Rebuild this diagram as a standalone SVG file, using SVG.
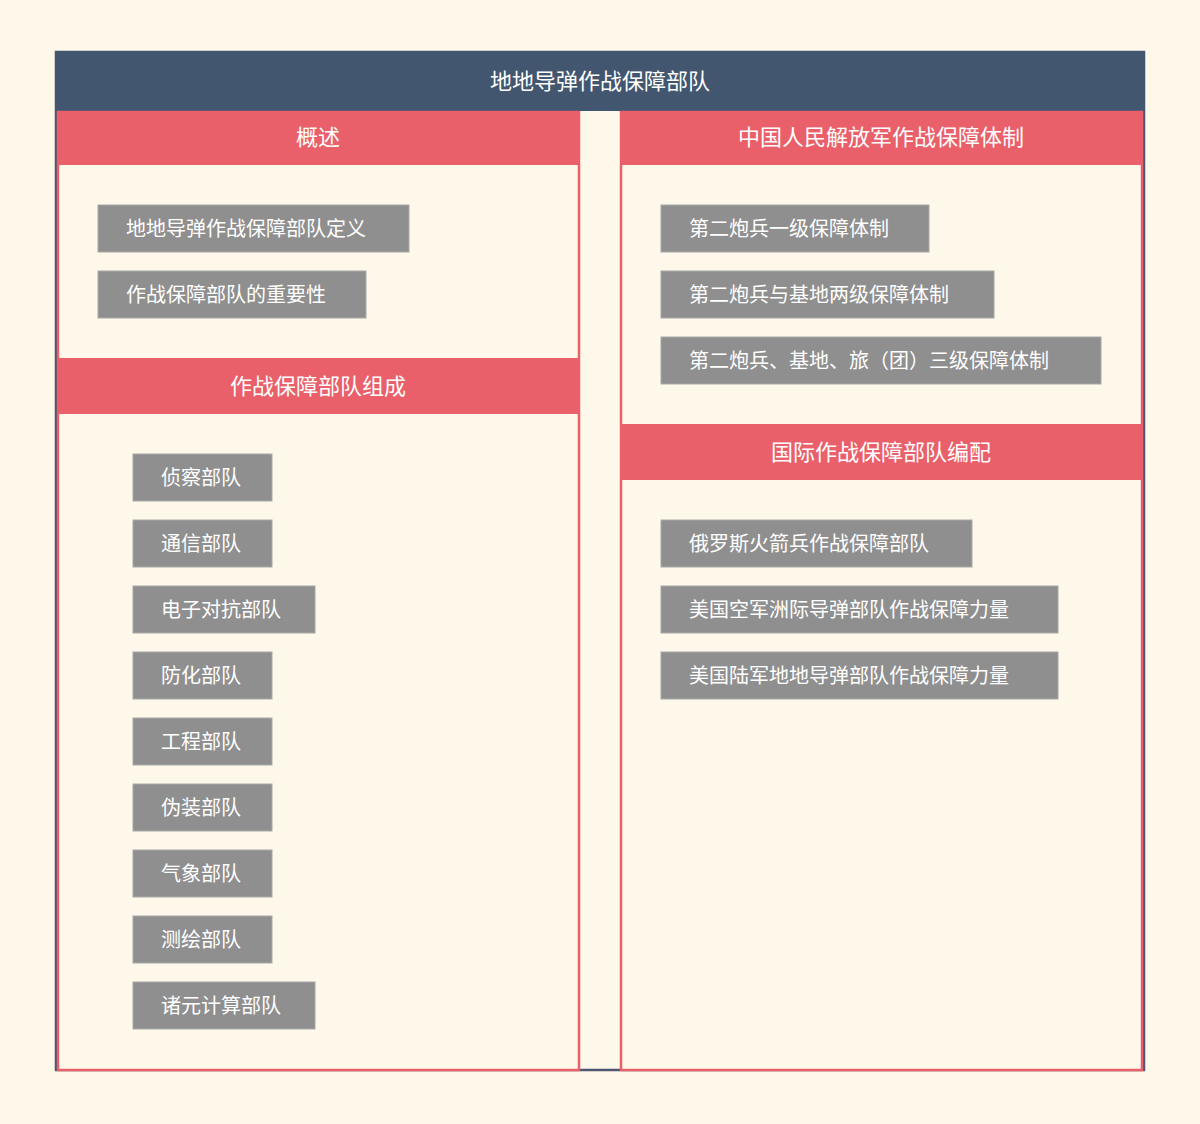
<svg xmlns="http://www.w3.org/2000/svg" width="1200" height="1124" viewBox="0 0 1200 1124">
<style>
text{font-family:"Noto Sans CJK SC","Liberation Sans",sans-serif;fill:#fff}
.h{font-size:22px;text-anchor:middle}
.t{font-size:20px}
.b{fill:#8f8f8f;stroke:#a8a8a8;stroke-width:1}
.r{fill:#e9606a}
.col{fill:#fef8ea;stroke:#e9606a;stroke-width:2.5}
</style>
<rect width="1200" height="1124" fill="#fef8ea"/>
<g id="frame">
<rect x="56" y="52" width="1088" height="1018" fill="#fef8ea" stroke="#4f5571" stroke-width="2.5"/>
<rect x="55" y="51" width="1090" height="60" fill="#425670"/>
<text class="h" x="600" y="89">地地导弹作战保障部队</text>
</g>
<g id="colL">
<rect class="col" x="58" y="112" width="521" height="958"/>
<rect class="r" x="57" y="111" width="523" height="54"/>
<text class="h" x="318" y="145">概述</text>
<rect class="r" x="57" y="358" width="523" height="56"/>
<text class="h" x="318" y="394">作战保障部队组成</text>
</g>
<g id="colR">
<rect class="col" x="621" y="112" width="521" height="958"/>
<rect class="r" x="620" y="111" width="523" height="54"/>
<text class="h" x="881" y="145">中国人民解放军作战保障体制</text>
<rect class="r" x="620" y="424" width="523" height="56"/>
<text class="h" x="881" y="460">国际作战保障部队编配</text>
</g>
<g id="n1"><rect class="b" x="98" y="205" width="311" height="47"/><text class="t" x="126" y="236">地地导弹作战保障部队定义</text></g>
<g id="n2"><rect class="b" x="98" y="271" width="268" height="47"/><text class="t" x="126" y="302">作战保障部队的重要性</text></g>
<g id="n3"><rect class="b" x="133" y="454" width="139" height="47"/><text class="t" x="161" y="485">侦察部队</text></g>
<g id="n4"><rect class="b" x="133" y="520" width="139" height="47"/><text class="t" x="161" y="551">通信部队</text></g>
<g id="n5"><rect class="b" x="133" y="586" width="182" height="47"/><text class="t" x="161" y="617">电子对抗部队</text></g>
<g id="n6"><rect class="b" x="133" y="652" width="139" height="47"/><text class="t" x="161" y="683">防化部队</text></g>
<g id="n7"><rect class="b" x="133" y="718" width="139" height="47"/><text class="t" x="161" y="749">工程部队</text></g>
<g id="n8"><rect class="b" x="133" y="784" width="139" height="47"/><text class="t" x="161" y="815">伪装部队</text></g>
<g id="n9"><rect class="b" x="133" y="850" width="139" height="47"/><text class="t" x="161" y="881">气象部队</text></g>
<g id="n10"><rect class="b" x="133" y="916" width="139" height="47"/><text class="t" x="161" y="947">测绘部队</text></g>
<g id="n11"><rect class="b" x="133" y="982" width="182" height="47"/><text class="t" x="161" y="1013">诸元计算部队</text></g>
<g id="n12"><rect class="b" x="661" y="205" width="268" height="47"/><text class="t" x="689" y="236">第二炮兵一级保障体制</text></g>
<g id="n13"><rect class="b" x="661" y="271" width="333" height="47"/><text class="t" x="689" y="302">第二炮兵与基地两级保障体制</text></g>
<g id="n14"><rect class="b" x="661" y="337" width="440" height="47"/><text class="t" x="689" y="368">第二炮兵、基地、旅（团）三级保障体制</text></g>
<g id="n15"><rect class="b" x="661" y="520" width="311" height="47"/><text class="t" x="689" y="551">俄罗斯火箭兵作战保障部队</text></g>
<g id="n16"><rect class="b" x="661" y="586" width="397" height="47"/><text class="t" x="689" y="617">美国空军洲际导弹部队作战保障力量</text></g>
<g id="n17"><rect class="b" x="661" y="652" width="397" height="47"/><text class="t" x="689" y="683">美国陆军地地导弹部队作战保障力量</text></g>
<g id="connectors"></g>
</svg>
